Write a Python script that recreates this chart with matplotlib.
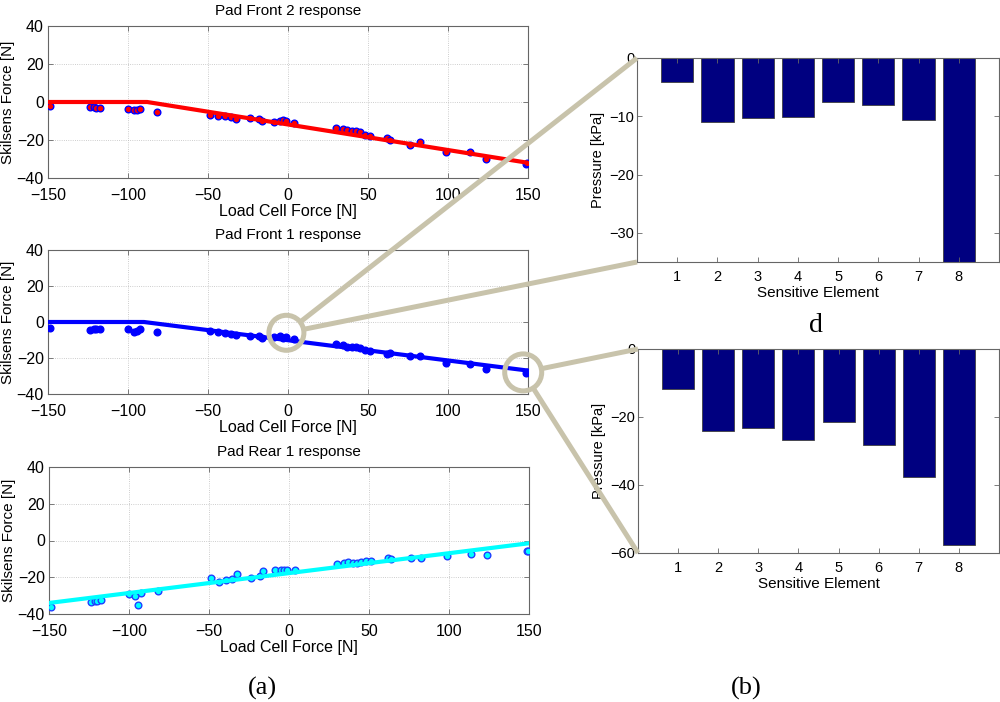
import matplotlib

matplotlib.use("Agg")
import matplotlib.pyplot as plt
from matplotlib.patches import Circle
import numpy as np

plt.rcParams["font.family"] = ["Liberation Sans", "DejaVu Sans"]

# load cell force shared by the three pads [N]
load_force = [-149, -124, -121.5, -120, -117.5, -100, -96, -94.5, -92.5, -82,
              -48.5, -44, -39.5, -35.5, -32.5, -23.5, -18, -16.5, -8.5, -5,
              -3, -1, 4, 30, 34.5, 37, 40, 42.5, 45, 48,
              51.5, 62, 63.5, 76, 82.5, 98.5, 113.5, 123.5, 148.5, 149.5]

front2_force = [-2.3, -2.6, -2.6, -3.0, -3.0, -3.5, -4.3, -4.0, -3.8, -5.2,
                -7.0, -7.3, -7.5, -7.8, -8.7, -8.3, -9.0, -10.1, -10.4, -9.8,
                -9.6, -9.9, -11.0, -13.6, -14.4, -14.8, -15.5, -15.1, -15.7, -17.4,
                -17.9, -19.1, -20.0, -22.6, -20.9, -26.4, -26.4, -30.1, -32.7, -32.3]

front1_force = [-3.3, -4.2, -3.9, -3.9, -3.7, -3.9, -5.5, -4.8, -3.7, -5.7,
                -4.8, -5.7, -6.1, -6.4, -7.0, -7.5, -7.5, -8.8, -8.5, -7.9,
                -8.8, -8.5, -9.7, -12.1, -12.9, -13.9, -14.0, -14.0, -14.3, -15.3,
                -16.2, -17.5, -17.0, -18.9, -18.9, -22.6, -23.5, -25.9, -28.1, -27.8]

rear1_force = [-36.2, -33.7, -33.1, -32.8, -32.2, -29.1, -30.0, -35.2, -28.7, -27.3,
               -20.4, -22.4, -21.5, -20.9, -18.2, -20.4, -19.1, -16.8, -16.2, -15.9,
               -16.3, -15.9, -15.9, -12.8, -12.3, -11.9, -12.3, -12.3, -11.9, -11.0,
               -11.3, -9.5, -10.0, -9.5, -9.5, -8.6, -7.4, -7.7, -5.9, -5.9]

# fitted responses (break points)
front2_fit_x = [-150, -88, 150]
front2_fit_y = [0, 0, -32]
front1_fit_x = [-150, -90, 150]
front1_fit_y = [0, 0, -27]
rear1_fit_x = [-150, 150]
rear1_fit_y = [-34, -1.5]

# pressure on the sensitive elements [kPa]
elements = [1, 2, 3, 4, 5, 6, 7, 8]
pressure_mid = [-4.2, -11.0, -10.3, -10.2, -7.5, -8.1, -10.6, -36]
pressure_end = [-11.9, -24.0, -23.2, -26.9, -21.6, -28.3, -37.6, -57.5]

W, H = 1000, 702
fig = plt.figure(figsize=(W / 100, H / 100), dpi=100)
fig.patch.set_facecolor("white")
frame = "#666666"


def px_axes(x0, y0, x1, y1):
    return fig.add_axes([x0 / W, 1 - y1 / H, (x1 - x0) / W, (y1 - y0) / H])


panels = [
    ("Pad Front 2 response", front2_force, front2_fit_x, front2_fit_y, "red", "red", "blue", (48, 26, 528, 178)),
    ("Pad Front 1 response", front1_force, front1_fit_x, front1_fit_y, "blue", "blue", "blue", (48, 250, 528, 394)),
    ("Pad Rear 1 response", rear1_force, rear1_fit_x, rear1_fit_y, "cyan", "cyan", "#1f3fff", (49, 467, 529, 614)),
]

left_axes = []
for title, resp, fx, fy, lc, fc, ec, box in panels:
    ax = px_axes(*box)
    ax.plot(load_force, resp, "o", ms=4.8, mfc=fc, mec=ec, mew=1.0, zorder=3)
    ax.plot(fx, fy, color=lc, lw=3.0, zorder=4)
    ax.set_xlim(-150, 150)
    ax.set_ylim(-40, 40)
    ax.set_xticks(np.arange(-150, 151, 50))
    ax.set_yticks(np.arange(-40, 41, 20))
    ax.grid(True, linestyle=":", color="#bdbdbd", lw=0.6)
    ax.tick_params(direction="in", top=True, right=True, length=3.5, width=0.6,
                   color=frame, labelsize=11.5)
    ax.tick_params(axis="x", pad=7)
    ax.tick_params(axis="y", pad=3)
    for sp in ax.spines.values():
        sp.set_color(frame)
        sp.set_linewidth(0.8)
    ax.set_title(title, fontsize=11, pad=8)
    ax.set_xlabel("Load Cell Force [N]", fontsize=11.5, labelpad=1)
    ax.set_ylabel("Skilsens Force [N]", fontsize=11, labelpad=1)
    left_axes.append(ax)

bar_panels = [
    (pressure_mid, (-35, 0), [-30, -20, -10, 0], (637, 58, 999, 262)),
    (pressure_end, (-60, 0), [-60, -40, -20, 0], (638, 349, 999, 553)),
]

right_axes = []
for vals, ylim, yt, box in bar_panels:
    ax = px_axes(*box)
    ax.bar(elements, vals, width=0.8, color="#000080", edgecolor="#404040", lw=0.6)
    ax.set_xlim(0, 9)
    ax.set_ylim(*ylim)
    ax.set_xticks(elements)
    ax.set_yticks(yt)
    ax.tick_params(direction="in", top=True, right=True, length=3.5, width=0.6,
                   color=frame, labelsize=10.5)
    ax.tick_params(axis="x", pad=6)
    ax.tick_params(axis="y", pad=2)
    for sp in ax.spines.values():
        sp.set_color(frame)
        sp.set_linewidth(0.8)
    ax.set_xlabel("Sensitive Element", fontsize=11, labelpad=1)
    ax.set_ylabel("Pressure [kPa]", fontsize=10.5, labelpad=3)
    right_axes.append(ax)

# zoom-in callouts drawn on a pixel overlay
ov = fig.add_axes([0, 0, 1, 1], zorder=10)
ov.set_xlim(0, W)
ov.set_ylim(H, 0)
ov.axis("off")
to_ov = ov.transData.inverted()
callout = "#c8c3ab"

ax_mid = left_axes[1]
callouts = [((-1, -6), 17.5, right_axes[0]), ((147, -28), 18.5, right_axes[1])]
for xy, r, target in callouts:
    c = to_ov.transform(ax_mid.transData.transform(xy))
    ov.add_patch(Circle(c, r, fill=False, edgecolor=callout, lw=3.6))
    for corner in [(0, 1), (0, 0)]:
        end = to_ov.transform(target.transAxes.transform(corner))
        d = end - c
        start = c + r * d / np.hypot(*d)
        ov.plot([start[0], end[0]], [start[1], end[1]], color=callout, lw=3.6,
                solid_capstyle="butt")

serif = ["Liberation Serif", "DejaVu Serif"]
fig.text(262 / W, 1 - 688 / H, "(a)", family=serif, fontsize=19, ha="center", va="center")
fig.text(746 / W, 1 - 688 / H, "(b)", family=serif, fontsize=19, ha="center", va="center")
fig.text(816 / W, 1 - 325 / H, "d", family=serif, fontsize=20, ha="center", va="center")

fig.savefig("out.png", dpi=100, facecolor="white")
